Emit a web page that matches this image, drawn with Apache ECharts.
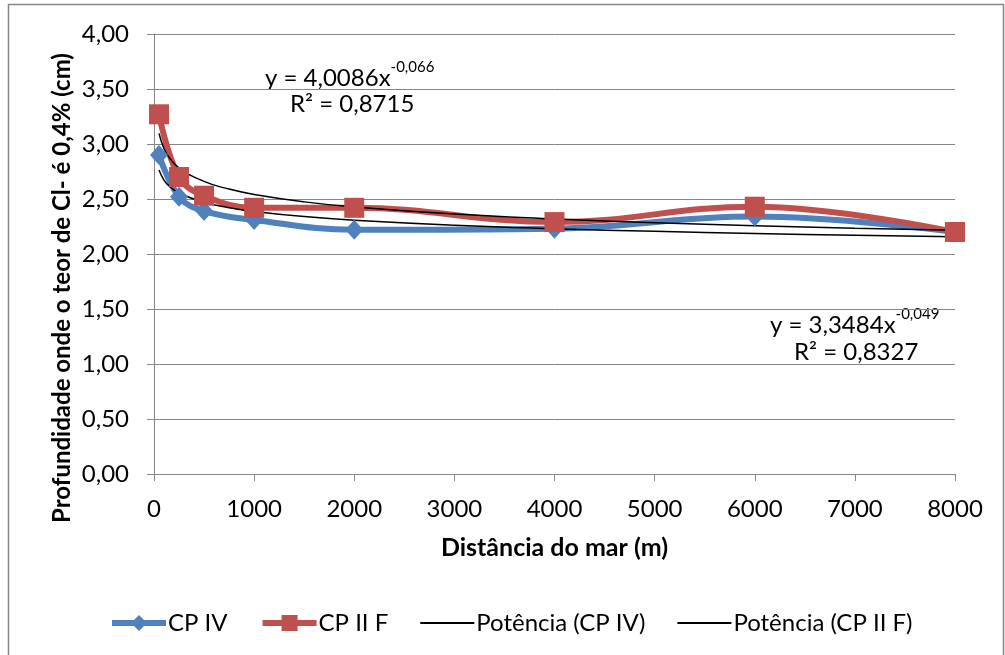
<!DOCTYPE html>
<html>
<head>
<meta charset="utf-8">
<script src="https://cdn.jsdelivr.net/npm/echarts@6/dist/echarts.min.js"></script>
<style>
html,body{margin:0;padding:0;background:#fff;}
#chart{width:1005px;height:655px;}
</style>
</head>
<body>
<div id="chart"></div>
<script>
// Distance from sea (m)
const distances = [50, 250, 500, 1000, 2000, 4000, 6000, 8000];
// Depth where Cl- content is 0.4% (cm)
const cpIV  = [2.90, 2.52, 2.39, 2.31, 2.22, 2.23, 2.34, 2.20];
const cpIIF = [3.27, 2.70, 2.53, 2.42, 2.42, 2.29, 2.43, 2.20];
// Power trendlines
const trendX     = [50, 100, 150, 250, 500, 750, 1000, 1500, 2000, 3000, 4000, 5000, 6000, 7000, 8000];
const trendIV    = [2.764, 2.672, 2.619, 2.555, 2.470, 2.421, 2.387, 2.340, 2.307, 2.262, 2.230, 2.206, 2.186, 2.170, 2.156];
const trendIIF   = [3.097, 2.958, 2.880, 2.784, 2.660, 2.590, 2.541, 2.474, 2.427, 2.363, 2.319, 2.285, 2.257, 2.234, 2.215];
const seriesNames = ['CP IV', 'CP II F', 'Potência (CP IV)', 'Potência (CP II F)'];
const xTitle = 'Distância do mar (m)';
const yTitle = 'Profundidade onde o teor de Cl- é 0,4% (cm)';

const pair = (xs, ys) => xs.map((x, i) => [x, ys[i]]);
const FONT = 'Lato';
const FS = 24;
const lineIcon = 'path://M0,0M0,9H54V11H0ZM54,20';
const chart = echarts.init(document.getElementById('chart'), null, {renderer: 'canvas'});

chart.setOption({
  animation: false,
  textStyle: {fontFamily: FONT},
  grid: {left: 154, right: 50, top: 34, bottom: 181},
  xAxis: {
    type: 'value', min: 0, max: 8000, interval: 1000,
    name: xTitle, nameLocation: 'middle', nameGap: 61,
    nameTextStyle: {fontFamily: FONT, fontSize: 25, fontWeight: 'bold', color: '#000'},
    axisLine: {show: true, onZero: false, lineStyle: {color: '#868686', width: 1}},
    axisTick: {show: true, length: 7, lineStyle: {color: '#868686'}},
    axisLabel: {fontFamily: FONT, fontSize: FS, color: '#000', margin: 23,
      formatter: v => String(v)},
    splitLine: {show: false}
  },
  yAxis: {
    type: 'value', min: 0, max: 4, interval: 0.5,
    axisLine: {show: true, lineStyle: {color: '#868686', width: 1}},
    axisTick: {show: true, length: 7, lineStyle: {color: '#868686'}},
    axisLabel: {fontFamily: FONT, fontSize: FS, color: '#000', margin: 25,
      formatter: v => v.toFixed(2).replace('.', ',')},
    splitLine: {show: true, lineStyle: {color: '#868686', width: 1}}
  },
  legend: {
    data: [
      {name: seriesNames[0]},
      {name: seriesNames[1]},
      {name: seriesNames[2], icon: lineIcon},
      {name: seriesNames[3], icon: lineIcon}
    ],
    left: 104, top: 606,
    itemWidth: 54, itemHeight: 20, itemGap: 32,
    lineStyle: {width: 'inherit'},
    textStyle: {fontFamily: FONT, fontSize: FS, color: '#000', padding: [0, 0, 0, -3]}
  },
  series: [
    {name: seriesNames[0], type: 'line', data: pair(distances, cpIV), smooth: 0.4,
     symbol: 'diamond', symbolSize: [18, 20],
     lineStyle: {color: '#4F81BD', width: 6}, itemStyle: {color: '#4F81BD'}},
    {name: seriesNames[1], type: 'line', data: pair(distances, cpIIF), smooth: 0.4,
     symbol: 'rect', symbolSize: 20,
     lineStyle: {color: '#C0504D', width: 6}, itemStyle: {color: '#C0504D'}},
    {name: seriesNames[2], type: 'line', data: pair(trendX, trendIV), smooth: 0.5,
     symbol: 'none', lineStyle: {color: '#000', width: 1.5}, itemStyle: {color: '#000'}},
    {name: seriesNames[3], type: 'line', data: pair(trendX, trendIIF), smooth: 0.5,
     symbol: 'none', lineStyle: {color: '#000', width: 1.5}, itemStyle: {color: '#000'}}
  ],
  graphic: [
    {type: 'rect', shape: {x: 8.5, y: 4.5, width: 995, height: 700}, silent: true,
     style: {fill: 'none', stroke: '#868686', lineWidth: 1.5}},
    {type: 'text', x: 62, y: 288, rotation: Math.PI / 2, silent: true,
     style: {text: yTitle, font: 'bold 24px ' + FONT, fill: '#000', align: 'center', verticalAlign: 'middle'}},
    {type: 'text', x: 265, y: 60, silent: true,
     style: {text: '{m|y = 4,0086x}{s|-0,066}', fill: '#000',
       rich: {m: {fontFamily: FONT, fontSize: FS, fill: '#000', verticalAlign: 'bottom', lineHeight: 30},
              s: {fontFamily: FONT, fontSize: 15, fill: '#000', verticalAlign: 'top', lineHeight: 30}}}},
    {type: 'text', x: 290, y: 92, silent: true,
     style: {text: 'R² = 0,8715', font: FS + 'px ' + FONT, fill: '#000'}},
    {type: 'text', x: 770, y: 307, silent: true,
     style: {text: '{m|y = 3,3484x}{s|-0,049}', fill: '#000',
       rich: {m: {fontFamily: FONT, fontSize: FS, fill: '#000', verticalAlign: 'bottom', lineHeight: 30},
              s: {fontFamily: FONT, fontSize: 15, fill: '#000', verticalAlign: 'top', lineHeight: 30}}}},
    {type: 'text', x: 794, y: 340, silent: true,
     style: {text: 'R² = 0,8327', font: FS + 'px ' + FONT, fill: '#000'}}
  ]
});
</script>
</body>
</html>
